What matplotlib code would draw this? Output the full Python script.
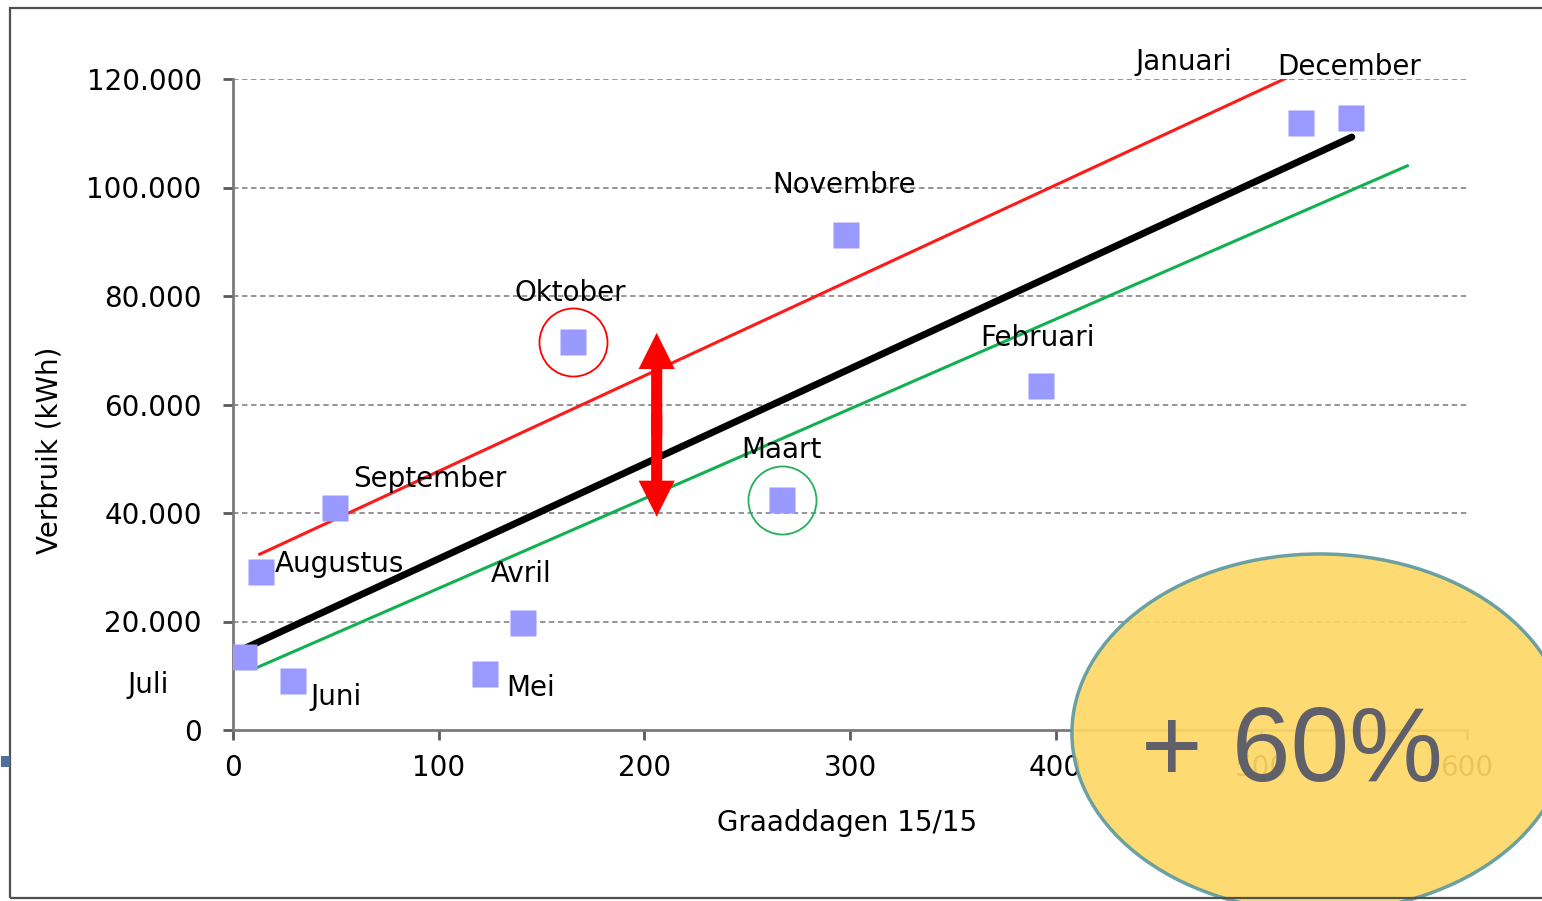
import matplotlib
matplotlib.use("Agg")
from matplotlib import pyplot as plt
from matplotlib.patches import Ellipse, Rectangle
from matplotlib.ticker import FuncFormatter

# Monthly consumption vs. degree days
months = ["Juli", "Juni", "Augustus", "September", "Mei", "Avril",
          "Oktober", "Maart", "Novembre", "Februari", "Januari", "December"]
graaddagen = [5.3, 29.2, 13.6, 49.6, 122.5, 141.0,
              165.3, 266.9, 298.0, 392.8, 519.2, 543.5]
verbruik = [13500, 9000, 29100, 40900, 10300, 19700,
            71500, 42400, 91200, 63400, 111900, 112800]

# label offsets (pixels) relative to each point
label_dx = [-96, 43, 78, 95, 46, -2, -3, 0, -2, -3, -117, -2]
label_dy = [-28, -16, 8, 29, -14, 49, 49, 50, 50, 48, 61, 51]

# trend line and the upper / lower bands
trend_x = [4.9, 544.0]
trend_y = [14900, 109300]
upper_x = [13.0, 514.0]
upper_y = [32400, 120500]
lower_x = [11.0, 571.0]
lower_y = [11400, 104000]

# highlighted months and the deviation arrow
circle_red = ("Oktober", "red")
circle_green = ("Maart", "#22b05a")
arrow_x = 206
arrow_top = 73200
arrow_bottom = 39300

yticks = [0, 20000, 40000, 60000, 80000, 100000, 120000]
xticks = [0, 100, 200, 300, 400, 500, 600]

fig = plt.figure(figsize=(15.42, 9.01), dpi=100)
ax = fig.add_axes([233 / 1542, 1 - 730 / 901, 1234 / 1542, 651 / 901])

font = "DejaVu Sans"
fs = 20

# outer frame of the slide picture
fig.add_artist(Rectangle((10 / 1542, 3 / 901), 1.2, 890 / 901, transform=fig.transFigure,
                         fill=False, edgecolor="#505050", linewidth=1.6))
fig.add_artist(Rectangle((1 / 1542, 134 / 901), 9 / 1542, 11 / 901, transform=fig.transFigure,
                         facecolor="#4f6f9f", edgecolor="none"))

ax.set_xlim(0, 600)
ax.set_ylim(0, 120000)
ax.set_xticks(xticks)
ax.set_yticks(yticks)
ax.yaxis.set_major_formatter(FuncFormatter(lambda v, p: f"{int(v):,}".replace(",", ".")))

for s in ["top", "right"]:
    ax.spines[s].set_visible(False)
for s in ["left", "bottom"]:
    ax.spines[s].set_color("#7a7a7a")
    ax.spines[s].set_linewidth(2)

ax.tick_params(axis="both", direction="out", length=7.5, width=2, color="#5a5a5a",
               labelsize=fs)
ax.tick_params(axis="y", pad=15)
ax.tick_params(axis="x", pad=10)
for lbl in ax.get_xticklabels() + ax.get_yticklabels():
    lbl.set_fontfamily(font)

for yv in yticks[1:]:
    ax.axhline(yv, color="#8c8c8c", linewidth=1.3, linestyle=(0, (3, 2)), zorder=1)

ax.plot(upper_x, upper_y, color="#ff1a1a", linewidth=2.2, zorder=3)
ax.plot(lower_x, lower_y, color="#11b050", linewidth=2.2, zorder=3)
ax.plot(trend_x, trend_y, color="black", linewidth=5, solid_capstyle="round", zorder=3)

ax.plot(graaddagen, verbruik, linestyle="none", marker="s", markersize=19,
        markerfacecolor="#9999ff", markeredgecolor="none", zorder=4)

for name, dx, dy, x, y in zip(months, label_dx, label_dy, graaddagen, verbruik):
    ax.annotate(name, (x, y), xytext=(dx, dy), textcoords="offset pixels",
                ha="center", va="center", fontsize=fs, family=font, zorder=5)

for name, col in [circle_red, circle_green]:
    i = months.index(name)
    ax.plot(graaddagen[i], verbruik[i], linestyle="none", marker="o", markersize=49,
            markerfacecolor="none", markeredgecolor=col, markeredgewidth=1.3, zorder=4)

# double headed arrow: two filled arrows overlapping in the middle
arrow_mid = (arrow_top + arrow_bottom) / 2
for tip, start in [(arrow_top, arrow_mid - 2000), (arrow_bottom, arrow_mid + 2000)]:
    ax.annotate("", xy=(arrow_x, tip), xytext=(arrow_x, start),
                arrowprops=dict(arrowstyle="simple,head_length=1.3,head_width=1.3,tail_width=0.4",
                                facecolor="red", edgecolor="none", lw=0, mutation_scale=20,
                                shrinkA=0, shrinkB=0), zorder=5)

ax.set_xlabel("Graaddagen 15/15", fontsize=fs, family=font)
ax.set_ylabel("Verbruik (kWh)", fontsize=fs, family=font)
ax.xaxis.set_label_coords(0.4976, -0.121)
ax.yaxis.set_label_coords(-0.137, 0.43)

# yellow callout
ax.add_patch(Ellipse((528.4, -550), 241, 66000, facecolor="#fdd866", alpha=0.92,
                     edgecolor="#5f9aa0", linewidth=2.5, clip_on=False, zorder=10))
ax.text(515, -4400, "+ 60%", fontsize=76, family="Liberation Sans", color="#60606a",
        ha="center", va="center", clip_on=False, zorder=11)

fig.savefig("out.png", dpi=100)
